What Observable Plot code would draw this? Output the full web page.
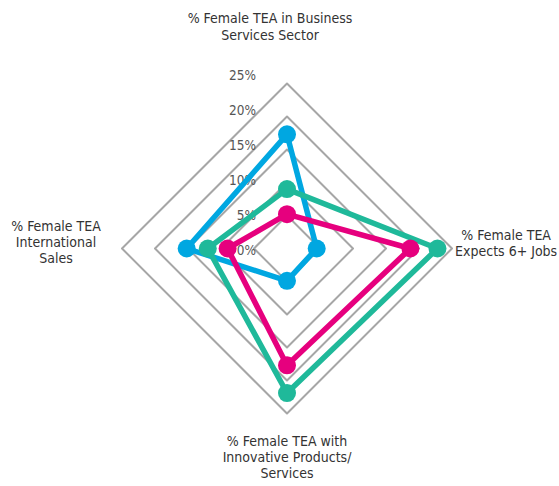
<!DOCTYPE html>
<html>
<head>
<meta charset="utf-8">
<script src="https://cdn.jsdelivr.net/npm/d3@7"></script>
<script src="https://cdn.jsdelivr.net/npm/@observablehq/plot@0.6"></script>
<style>
  html, body { margin: 0; padding: 0; background: #fff; }
  #chart svg { display: block; font-stretch: condensed; }
</style>
</head>
<body>
<div id="chart"></div>
<script>
// Axes (clockwise from top)
const categories = [
  "% Female TEA in Business\nServices Sector",
  "% Female TEA\nExpects 6+ Jobs",
  "% Female TEA with\nInnovative Products/\nServices",
  "% Female TEA\nInternational\nSales"
];
const seriesNames = ["Series A", "Series B", "Series C"];
const blueValues  = [17.3, 4.5, 4.9, 15.2];
const greenValues = [9.0, 22.8, 21.9, 12.0];
const pinkValues  = [5.2, 18.7, 17.7, 9.0];
const seriesColors = ["#00a7e1", "#1fb99a", "#e6007e"];
const gridValues = [5, 10, 15, 20, 25];
const tickLabels = ["0%", "5%", "10%", "15%", "20%", "25%"];
const tickValues = [0, 5, 10, 15, 20, 25];

const angle = i => i * Math.PI / 2; // clockwise from top
const px = (r, i) => r * Math.sin(angle(i));
const py = (r, i) => r * Math.cos(angle(i));

const allSeries = [blueValues, greenValues, pinkValues];
const points = [];
allSeries.forEach((vals, s) => vals.forEach((v, i) => points.push({
  series: seriesNames[s], i, x: px(v, i), y: py(v, i)
})));

const rings = [];
gridValues.forEach(g => categories.forEach((c, i) => rings.push({ g, x: px(g, i), y: py(g, i) })));

// label placement per axis (radius in value units, pixel offsets)
const labelPos = [
  { r: 33.2, dx: -17, dy: -3 },
  { r: 33.2, dx: 0, dy: -6 },
  { r: 33.2, dx: 0, dy: -11 },
  { r: 35.0, dx: 0, dy: -7 }
];
const labels = categories.map((c, i) => ({
  text: c, x: px(labelPos[i].r, i), y: py(labelPos[i].r, i)
}));
const ticks = tickValues.map((v, k) => ({ text: tickLabels[k], x: 0, y: v * 7 / 6.6 }));

const font = "'DejaVu Sans Condensed', 'Liberation Sans Narrow', 'Roboto Condensed', 'DejaVu Sans', sans-serif";

const chart = Plot.plot({
  width: 559,
  height: 486,
  margin: 0,
  style: { fontFamily: font, background: "#fff" },
  x: { domain: [-25, 25], range: [121.5, 451.5], axis: null },
  y: { domain: [-25, 25], range: [413, 83], axis: null },
  color: { domain: seriesNames, range: seriesColors },
  marks: [
    Plot.line(rings, { x: "x", y: "y", z: "g", curve: "linear-closed", stroke: "#a6a6a6", strokeWidth: 2 }),
    Plot.text(ticks, { x: "x", y: "y", text: "text", textAnchor: "end", dx: -31, dy: 2, fontSize: 13.5, fill: "#555" }),
    Plot.line(points, { x: "x", y: "y", z: "series", stroke: "series", curve: "linear-closed", strokeWidth: 5.5, strokeLinejoin: "round" }),
    Plot.dot(points, { x: "x", y: "y", fill: "series", r: 9 }),
    ...labels.map((l, i) => Plot.text([l], { x: "x", y: "y", text: "text", dx: labelPos[i].dx, dy: labelPos[i].dy, fontSize: 14, fill: "#333", lineHeight: 1.15 }))
  ]
});
document.getElementById("chart").appendChild(chart);
</script>
</body>
</html>
